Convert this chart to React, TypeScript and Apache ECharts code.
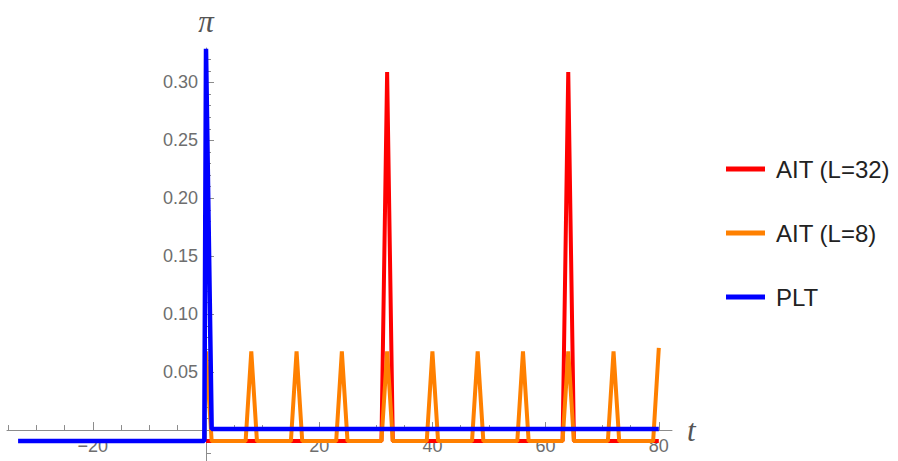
import React, { useEffect, useRef } from "react";
import * as echarts from "echarts";

// AIT (L=32)
const ait32: number[][] = [
  [0, -0.0095], [31, -0.0095], [32, 0.309], [33, -0.0095],
  [63, -0.0095], [64, 0.309], [65, -0.0095], [80, -0.0095],
];
// AIT (L=8)
const ait8: number[][] = [
  [0, 0.068], [1, -0.0095], [7, -0.0095], [8, 0.068], [9, -0.0095],
  [15, -0.0095], [16, 0.068], [17, -0.0095], [23, -0.0095], [24, 0.068], [25, -0.0095],
  [31, -0.0095], [32, 0.068], [33, -0.0095], [39, -0.0095], [40, 0.068], [41, -0.0095],
  [47, -0.0095], [48, 0.068], [49, -0.0095], [55, -0.0095], [56, 0.068], [57, -0.0095],
  [63, -0.0095], [64, 0.068], [65, -0.0095], [71, -0.0095], [72, 0.068], [73, -0.0095],
  [79, -0.0095], [80, 0.071],
];
// PLT
const plt: number[][] = [
  [-33.2, -0.0095], [-0.3, -0.0095], [0, 0.329], [1, 0.001], [80, 0.001],
];

const seriesNames = ["AIT (L=32)", "AIT (L=8)", "PLT"];
const seriesColors = ["#ff0000", "#ff8000", "#0000ff"];

const xMajorTicks = [-20, 0, 20, 40, 60, 80];
const xLabels = [-20, 20, 40, 60, 80];
const xMinorTicks = [-35, -30, -25, -15, -10, -5, 5, 10, 15, 25, 30, 35, 45, 50, 55, 65, 70, 75];
const yMajorTicks = [0.05, 0.1, 0.15, 0.2, 0.25, 0.3];
const yLabels = [0.05, 0.1, 0.15, 0.2, 0.25, 0.3];
const yMinorTicks = [-0.02, -0.01, 0.01, 0.02, 0.03, 0.04, 0.06, 0.07, 0.08, 0.09, 0.11, 0.12, 0.13, 0.14,
  0.16, 0.17, 0.18, 0.19, 0.21, 0.22, 0.23, 0.24, 0.26, 0.27, 0.28, 0.29, 0.31, 0.32];

const X_MIN = -35.16;
const X_MAX = 82.33;
const Y_MIN = -0.0267;
const Y_MAX = 0.3297;

export default function App() {
  const ref = useRef<HTMLDivElement>(null);
  useEffect(() => {
    if (!ref.current) return;
    const chart = echarts.init(ref.current, undefined, { renderer: "svg" });
    const axisColor = "#8c8c8c";
    const labelColor = "#6e6e6e";
    const labelFont = "'Liberation Sans', Arial, sans-serif";
    const nameStyle = {
      fontFamily: "'Liberation Serif', 'Times New Roman', serif",
      fontStyle: "italic" as const,
      fontSize: 31,
      color: "#555555",
    };
    const hiddenAxis = (gridIndex: number) => ({
      type: "value",
      gridIndex,
      show: false,
      min: 0,
      max: 1,
      axisLine: { show: false, onZero: false },
      axisTick: { show: false },
      axisLabel: { show: false },
      splitLine: { show: false },
    });
    chart.setOption({
      animation: false,
      grid: [
        { left: 7, right: 226, top: 48, bottom: 0, containLabel: false, outerBoundsMode: "none" },
        // carries the y tick labels next to the y axis (x = 0)
        { left: 206, right: 226, top: 48, bottom: 0, containLabel: false, outerBoundsMode: "none" },
        // carries the x tick labels under the x axis (y = 0)
        { left: 7, right: 226, top: 48, bottom: 31, containLabel: false, outerBoundsMode: "none" },
      ],
      legend: {
        orient: "vertical",
        left: 726,
        top: 157,
        padding: 0,
        itemGap: 40,
        itemWidth: 39,
        itemHeight: 5,
        icon: "rect",
        data: seriesNames,
        textStyle: { fontSize: 24, color: "#222222", fontFamily: labelFont, padding: [0, 0, 0, 6] },
      },
      xAxis: [
        {
          type: "value",
          gridIndex: 0,
          min: X_MIN,
          max: X_MAX,
          position: "bottom",
          name: "t",
          nameLocation: "end",
          nameGap: 15,
          nameTextStyle: { ...nameStyle, verticalAlign: "middle" },
          axisLine: { show: true, onZero: true, onZeroAxisIndex: 0, lineStyle: { color: axisColor, width: 1 } },
          axisTick: { show: true, inside: true, length: 8, customValues: xMajorTicks, lineStyle: { color: axisColor } },
          axisLabel: { show: false },
          splitLine: { show: false },
        },
        {
          type: "value",
          gridIndex: 0,
          min: X_MIN,
          max: X_MAX,
          position: "bottom",
          axisLine: { show: false, onZero: true, onZeroAxisIndex: 0 },
          axisTick: { show: true, inside: true, length: 5, customValues: xMinorTicks, lineStyle: { color: axisColor } },
          axisLabel: { show: false },
          splitLine: { show: false },
        },
        hiddenAxis(1),
        {
          type: "value",
          gridIndex: 2,
          min: X_MIN,
          max: X_MAX,
          position: "bottom",
          axisLine: { show: false, onZero: false },
          axisTick: { show: false },
          axisLabel: {
            show: true,
            margin: 7,
            customValues: xLabels,
            color: labelColor,
            fontSize: 18,
            fontFamily: labelFont,
            formatter: (v: number) => (v < 0 ? "\u2212" + Math.abs(v) : String(v)),
          },
          splitLine: { show: false },
        },
      ],
      yAxis: [
        {
          type: "value",
          gridIndex: 0,
          min: Y_MIN,
          max: Y_MAX,
          position: "left",
          name: "π",
          nameLocation: "end",
          nameGap: 27,
          nameTextStyle: { ...nameStyle, verticalAlign: "middle", align: "center" },
          axisLine: { show: true, onZero: true, onZeroAxisIndex: 0, lineStyle: { color: axisColor, width: 1 } },
          axisTick: { show: true, inside: true, length: 8, customValues: yMajorTicks, lineStyle: { color: axisColor } },
          axisLabel: { show: false },
          splitLine: { show: false },
        },
        {
          type: "value",
          gridIndex: 0,
          min: Y_MIN,
          max: Y_MAX,
          position: "left",
          axisLine: { show: false, onZero: true, onZeroAxisIndex: 0 },
          axisTick: { show: true, inside: true, length: 5, customValues: yMinorTicks, lineStyle: { color: axisColor } },
          axisLabel: { show: false },
          splitLine: { show: false },
        },
        {
          type: "value",
          gridIndex: 1,
          min: Y_MIN,
          max: Y_MAX,
          position: "left",
          axisLine: { show: false, onZero: false },
          axisTick: { show: false },
          axisLabel: {
            show: true,
            margin: 8,
            customValues: yLabels,
            color: labelColor,
            fontSize: 18,
            fontFamily: labelFont,
            formatter: (v: number) => v.toFixed(2),
          },
          splitLine: { show: false },
        },
        hiddenAxis(2),
      ],
      series: [
        { name: seriesNames[0], type: "line", xAxisIndex: 0, yAxisIndex: 0, data: ait32, color: seriesColors[0], showSymbol: false, symbol: "none", lineStyle: { width: 4, color: seriesColors[0] }, z: 2 },
        { name: seriesNames[1], type: "line", xAxisIndex: 0, yAxisIndex: 0, data: ait8, color: seriesColors[1], showSymbol: false, symbol: "none", lineStyle: { width: 4, color: seriesColors[1] }, z: 3 },
        { name: seriesNames[2], type: "line", xAxisIndex: 0, yAxisIndex: 0, data: plt, color: seriesColors[2], showSymbol: false, symbol: "none", lineStyle: { width: 4.5, color: seriesColors[2] }, z: 4 },
      ],
    });
    return () => chart.dispose();
  }, []);
  return <div ref={ref} style={{ position: "absolute", left: 0, top: 0, width: 898, height: 461 }} />;
}
